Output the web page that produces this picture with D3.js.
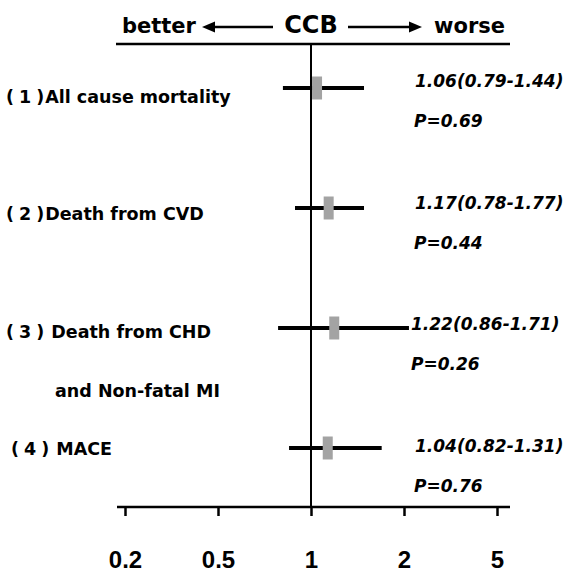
<!DOCTYPE html>
<html>
<head>
<meta charset="utf-8">
<script src="https://cdn.jsdelivr.net/npm/d3@7"></script>
<style>
  body { margin: 0; background: #fff; }
  svg text { font-family: "DejaVu Sans", "Noto Sans CJK JP", sans-serif; font-weight: bold; fill: #000; white-space: pre; }
</style>
</head>
<body>
<div id="myDiv"><svg width="569" height="573"></svg></div>
<script>
// outcomes, top to bottom
const outcomeNums = ["1", "2", "3", "4"];
const outcomes = ["All cause mortality", "Death from CVD", " Death from CHD", " MACE"];
const outcomeSub = ["", "", "and Non-fatal MI", ""];
const hrLabels = ["1.06(0.79-1.44)", "1.17(0.78-1.77)", "1.22(0.86-1.71)", "1.04(0.82-1.31)"];
const pLabels = ["P=0.69", "P=0.44", "P=0.26", "P=0.76"];

// where the marks sit in the picture
const hrPlot = [1.065, 1.19, 1.25, 1.18];
const loPlot = [0.849, 0.914, 0.823, 0.882];
const hiPlot = [1.57, 1.57, 2.16, 1.76];

const tickValues = [0.2, 0.5, 1, 2, 5];

const svg = d3.select("#myDiv").select("svg");

// equally spaced ticks, piecewise between them
const x = d3.scaleLinear()
    .domain(tickValues)
    .range(d3.quantize(d3.interpolate(125, 497), tickValues.length));

const rows = d3.range(outcomes.length);
const yRow = d3.scaleLinear().domain([0, 3]).range([88, 448]);
const yLabel = d3.scaleLinear().domain([0, 3]).range([103, 455]);
const yValue = d3.scaleLinear().domain([0, 3]).range([87, 452]);

const axisY = 507, topY = 44;

// header
svg.append("line")
    .attr("x1", 116).attr("x2", 510)
    .attr("y1", topY).attr("y2", topY)
    .attr("stroke", "#000").attr("stroke-width", 2.5);

svg.append("text").attr("x", 122).attr("y", 33)
    .style("font-size", "21px")
    .text("better");
svg.append("text").attr("x", x(1)).attr("y", 33)
    .attr("text-anchor", "middle")
    .style("font-size", "24px")
    .text("CCB");
svg.append("text").attr("x", 505).attr("y", 33)
    .attr("text-anchor", "end")
    .style("font-size", "21px")
    .text("worse");

// arrows
svg.append("line").attr("x1", 273).attr("x2", 210).attr("y1", 27).attr("y2", 27)
    .attr("stroke", "#000").attr("stroke-width", 2.5);
svg.append("path").attr("d", "M202,27 L215,21.5 L215,32.5 Z").attr("fill", "#000");
svg.append("line").attr("x1", 348).attr("x2", 414).attr("y1", 27).attr("y2", 27)
    .attr("stroke", "#000").attr("stroke-width", 2.5);
svg.append("path").attr("d", "M422,27 L409,21.5 L409,32.5 Z").attr("fill", "#000");

// reference line at 1
svg.append("line")
    .attr("x1", x(1)).attr("x2", x(1))
    .attr("y1", topY).attr("y2", axisY)
    .attr("stroke", "#000").attr("stroke-width", 2);

// x axis
svg.append("line")
    .attr("x1", 117).attr("x2", 510)
    .attr("y1", axisY).attr("y2", axisY)
    .attr("stroke", "#000").attr("stroke-width", 2.5);

const axis = svg.append("g")
    .attr("transform", "translate(0," + axisY + ")")
    .call(d3.axisBottom(x).tickValues(tickValues).tickSize(9).tickSizeOuter(0)
        .tickFormat(function(d) { return String(d); }));
axis.select(".domain").remove();
axis.selectAll(".tick line").attr("stroke", "#000").attr("stroke-width", 2.5);
axis.selectAll(".tick text")
    .attr("y", 61).attr("dy", null)
    .attr("font-family", null).attr("font-size", null)
    .style("font-size", "24px")
    .style("font-family", "\"Liberation Sans\", Arial, sans-serif")
    .attr("fill", "#000");

// confidence intervals
svg.selectAll(".ci")
    .data(rows)
    .enter()
    .append("line")
    .attr("class", "ci")
    .attr("x1", function(i) { return x(loPlot[i]); })
    .attr("x2", function(i) { return x(hiPlot[i]); })
    .attr("y1", function(i) { return yRow(i); })
    .attr("y2", function(i) { return yRow(i); })
    .attr("stroke", "#000")
    .attr("stroke-width", 4);

// point estimates
svg.selectAll(".hr")
    .data(rows)
    .enter()
    .append("rect")
    .attr("class", "hr")
    .attr("x", function(i) { return x(hrPlot[i]) - 5; })
    .attr("y", function(i) { return yRow(i) - 11.5; })
    .attr("width", 10)
    .attr("height", 23)
    .attr("fill", "#a3a3a3");

// left labels: spaced-out "(n)" then the name
let outcomeText = svg.selectAll(".outcome")
    .data(rows)
    .enter()
    .append("text")
    .attr("class", "outcome")
    .attr("x", function(i) { return i === 3 ? 11 : 6; })
    .attr("y", function(i) { return yLabel(i); })
    .style("font-size", "17.5px");
outcomeText.append("tspan")
    .style("letter-spacing", "5px")
    .text(function(i) { return "(" + outcomeNums[i] + ")"; });
outcomeText.append("tspan")
    .attr("dx", -4)
    .text(function(i) { return outcomes[i]; });

svg.selectAll(".outcomeSub")
    .data(rows.filter(function(i) { return outcomeSub[i] !== ""; }))
    .enter()
    .append("text")
    .attr("class", "outcomeSub")
    .attr("x", 55)
    .attr("y", function(i) { return yLabel(i) + 59; })
    .style("font-size", "17.5px")
    .text(function(i) { return outcomeSub[i]; });

// right labels
svg.selectAll(".hrText")
    .data(rows)
    .enter()
    .append("text")
    .attr("class", "hrText")
    .attr("x", function(i) { return i === 2 ? 411 : 415; })
    .attr("y", function(i) { return yValue(i); })
    .style("font-size", "17px").style("font-style", "italic")
    .text(function(i) { return hrLabels[i]; });

svg.selectAll(".pText")
    .data(rows)
    .enter()
    .append("text")
    .attr("class", "pText")
    .attr("x", function(i) { return i === 2 ? 411 : 414; })
    .attr("y", function(i) { return yValue(i) + 40; })
    .style("font-size", "17px").style("font-style", "italic")
    .text(function(i) { return pLabels[i]; });
</script>
</body>
</html>
